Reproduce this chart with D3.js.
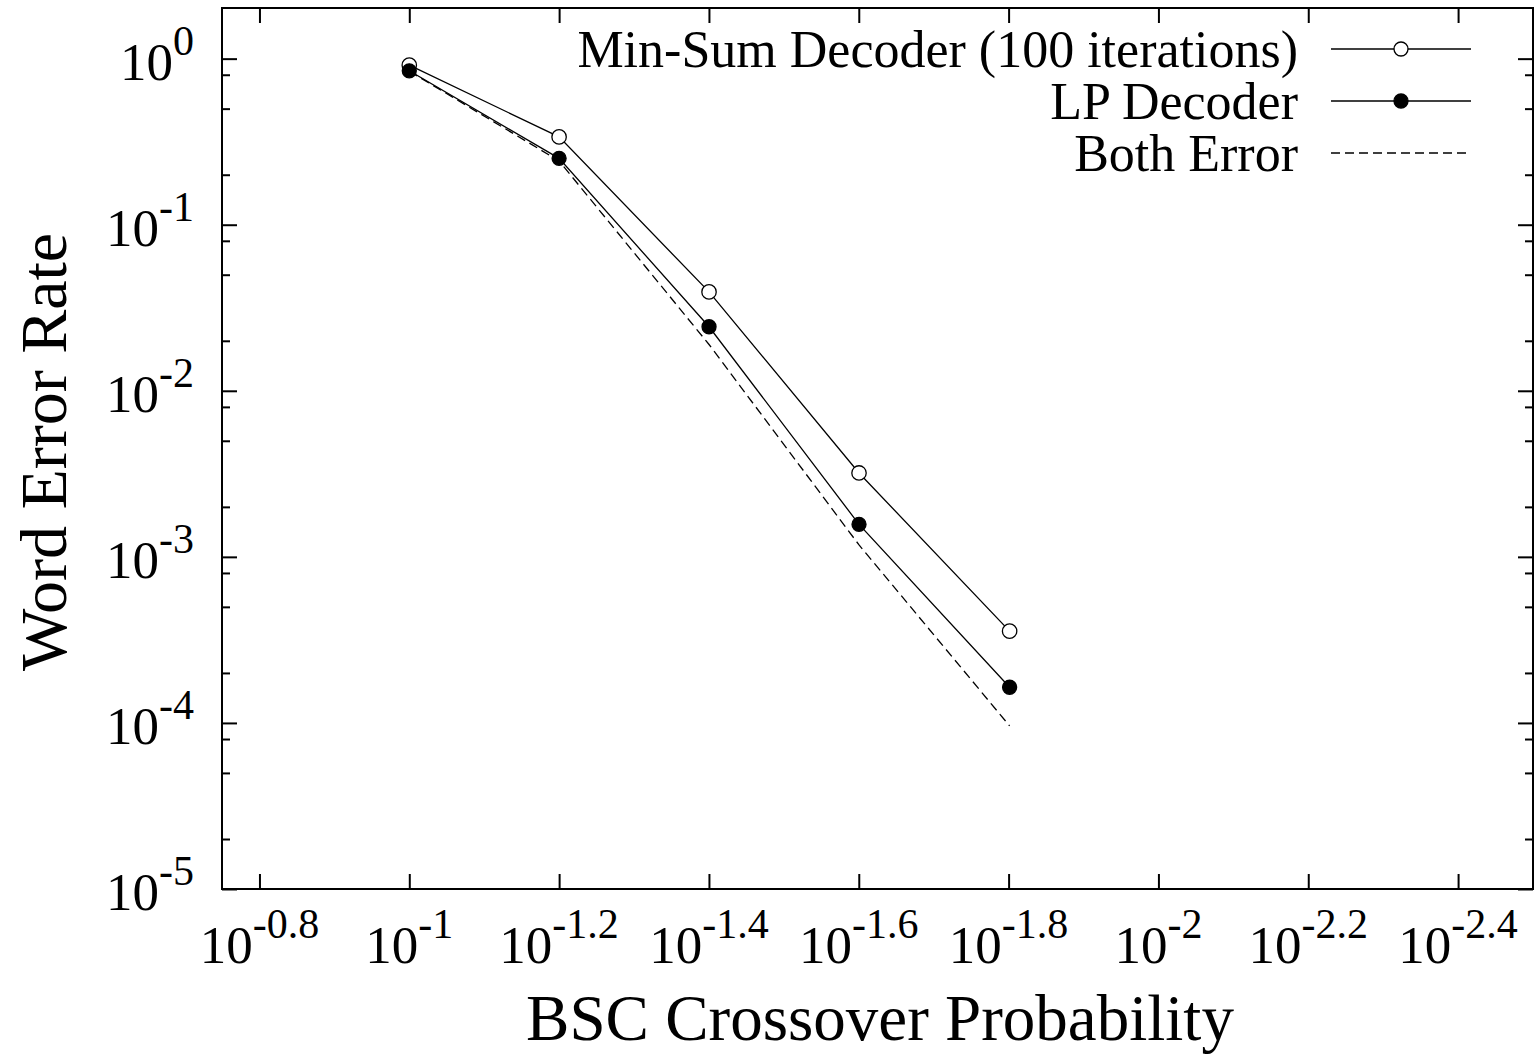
<!DOCTYPE html>
<html>
<head>
<meta charset="utf-8">
<script src="https://cdn.jsdelivr.net/npm/d3@7"></script>
<style>
  body { margin: 0; background: #fff; }
  svg { display: block; }
  text { font-family: "Liberation Serif", "Times New Roman", serif; fill: #000; }
</style>
</head>
<body>
<svg id="chart" width="1536" height="1055"></svg>
<script>
// crossover probabilities (10^-1 ... 10^-1.8)
const crossover = [0.1, 0.0631, 0.0398, 0.0251, 0.0158];
const minSumWER = [0.914, 0.338, 0.0394, 0.0032, 0.000357];
const lpWER = [0.845, 0.251, 0.0243, 0.00157, 0.000164];
const bothWER = [0.84, 0.242, 0.019, 0.00118, 0.000096];

const xTickExps = ["-0.8", "-1", "-1.2", "-1.4", "-1.6", "-1.8", "-2", "-2.2", "-2.4"];
const yTickExps = ["0", "-1", "-2", "-3", "-4", "-5"];
const yMinorTicks = [0.8, 0.5, 0.2, 0.08, 0.05, 0.02, 0.008, 0.005, 0.002,
  0.0008, 0.0005, 0.0002, 0.00008, 0.00005, 0.00002];

const series = [
  {name: "Min-Sum Decoder (100 iterations)", values: minSumWER, marker: "open", dash: null},
  {name: "LP Decoder", values: lpWER, marker: "filled", dash: null},
  {name: "Both Error", values: bothWER, marker: null, dash: "9,5"}
];

const width = 1536, height = 1055;
const margin = {top: 8, right: 3, bottom: 166, left: 222};
const plotW = width - margin.left - margin.right;
const plotH = height - margin.top - margin.bottom;

const svg = d3.select("#chart");
const g = svg.append("g").attr("transform", `translate(${margin.left},${margin.top})`);

// reversed log axis: larger probability on the left
const x = d3.scaleLog()
  .domain([Math.pow(10, -0.75), Math.pow(10, -2.5)])
  .range([0, plotW]);

const y = d3.scaleLog()
  .domain([1e-5, Math.pow(10, 0.305)])
  .range([plotH, 0]);

const xTicks = xTickExps.map(e => Math.pow(10, +e));
const yTicks = yTickExps.map(e => Math.pow(10, +e));

function tickStyle(sel) {
  sel.select(".domain").remove();
  sel.selectAll(".tick line").attr("stroke", "#000").attr("stroke-width", 2);
  sel.selectAll(".tick text").remove();
}

// x ticks bottom + top (inward)
g.append("g").attr("transform", `translate(0,${plotH})`)
  .call(d3.axisBottom(x).tickValues(xTicks).tickSize(-15).tickFormat(""))
  .call(tickStyle);
g.append("g")
  .call(d3.axisTop(x).tickValues(xTicks).tickSize(-15).tickFormat(""))
  .call(tickStyle);

// y ticks left + right, major and minor
g.append("g")
  .call(d3.axisLeft(y).tickValues(yTicks).tickSize(-15).tickFormat(""))
  .call(tickStyle);
g.append("g")
  .call(d3.axisLeft(y).tickValues(yMinorTicks).tickSize(-8).tickFormat(""))
  .call(tickStyle);
g.append("g").attr("transform", `translate(${plotW},0)`)
  .call(d3.axisRight(y).tickValues(yTicks).tickSize(-15).tickFormat(""))
  .call(tickStyle);
g.append("g").attr("transform", `translate(${plotW},0)`)
  .call(d3.axisRight(y).tickValues(yMinorTicks).tickSize(-8).tickFormat(""))
  .call(tickStyle);

// frame
g.append("rect")
  .attr("width", plotW).attr("height", plotH)
  .attr("fill", "none").attr("stroke", "#000").attr("stroke-width", 2);

// tick labels with superscript exponents
function powerLabel(sel, exp) {
  sel.append("tspan").attr("font-size", 53).text("10");
  sel.append("tspan").attr("font-size", 42).attr("dy", -25).text(exp);
}

g.selectAll(".xlab").data(xTickExps).join("text")
  .attr("class", "xlab")
  .attr("x", d => x(Math.pow(10, +d)))
  .attr("y", plotH + 74)
  .attr("text-anchor", "middle")
  .each(function(d) { powerLabel(d3.select(this), d); });

g.selectAll(".ylab").data(yTickExps).join("text")
  .attr("class", "ylab")
  .attr("x", -28)
  .attr("y", d => y(Math.pow(10, +d)) + 21)
  .attr("text-anchor", "end")
  .each(function(d) { powerLabel(d3.select(this), d); });

// axis titles
svg.append("text")
  .attr("x", 880).attr("y", 1040)
  .attr("text-anchor", "middle")
  .attr("font-size", 65)
  .text("BSC Crossover Probability");

svg.append("text")
  .attr("transform", "translate(66,452) rotate(-90)")
  .attr("text-anchor", "middle")
  .attr("font-size", 66)
  .text("Word Error Rate");

// lines
const line = d3.line()
  .x((d, i) => x(crossover[i]))
  .y(d => y(d));

series.forEach(s => {
  g.append("path")
    .datum(s.values)
    .attr("fill", "none")
    .attr("stroke", "#000")
    .attr("stroke-width", 1.3)
    .attr("stroke-dasharray", s.dash)
    .attr("d", line);
});

series.filter(s => s.marker).forEach(s => {
  g.selectAll(null).data(s.values).join("circle")
    .attr("cx", (d, i) => x(crossover[i]))
    .attr("cy", d => y(d))
    .attr("r", s.marker === "open" ? 7.2 : 7)
    .attr("fill", s.marker === "open" ? "#fff" : "#000")
    .attr("stroke", "#000")
    .attr("stroke-width", 1.3);
});

// legend
const legend = svg.append("g");
series.forEach((s, i) => {
  const ly = 49 + i * 52;
  legend.append("text")
    .attr("x", 1298).attr("y", ly + 18)
    .attr("text-anchor", "end")
    .attr("font-size", 52)
    .text(s.name);
  legend.append("line")
    .attr("x1", 1331).attr("x2", 1471)
    .attr("y1", ly).attr("y2", ly)
    .attr("stroke", "#000")
    .attr("stroke-width", 1.3)
    .attr("stroke-dasharray", s.dash);
  if (s.marker) {
    legend.append("circle")
      .attr("cx", 1401).attr("cy", ly)
      .attr("r", 7)
      .attr("fill", s.marker === "open" ? "#fff" : "#000")
      .attr("stroke", "#000")
      .attr("stroke-width", 1.3);
  }
});
</script>
</body>
</html>
